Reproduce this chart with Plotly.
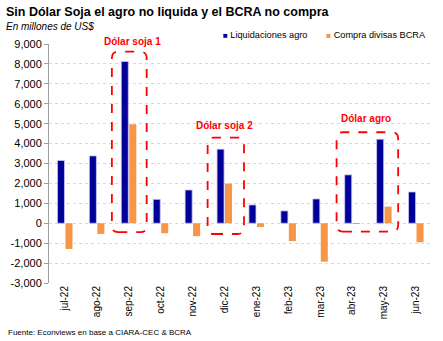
import plotly.graph_objects as go

months = ["jul-22", "ago-22", "sep-22", "oct-22", "nov-22", "dic-22",
          "ene-23", "feb-23", "mar-23", "abr-23", "may-23", "jun-23"]
liquidaciones = [3150, 3380, 8120, 1200, 1670, 3720, 920, 620, 1220, 2430, 4220, 1570]
compras = [-1290, -535, 4970, -500, -650, 1990, -185, -890, -1930, 10, 835, -955]

ytick_vals = [-3000, -2000, -1000, 0, 1000, 2000, 3000, 4000, 5000, 6000, 7000, 8000, 9000]
ytick_text = ["-3,000", "-2,000", "-1,000", "0", "1,000", "2,000", "3,000", "4,000",
              "5,000", "6,000", "7,000", "8,000", "9,000"]

# highlight boxes: (x0, x1, y0, y1) in category-index / value units, and labels
boxes = [(1.47, 2.56, -450, 8615), (4.47, 5.61, -540, 4300), (8.51, 10.44, -420, 4570)]
box_labels = [("Dólar soja 1", 2.12, 9110), ("Dólar soja 2", 4.99, 4930), ("Dólar agro", 9.43, 5280)]

FONT = "Liberation Sans"
RED = "#FF0000"
BLUE = "#000099"
ORANGE = "#F79646"

Y0, Y1 = -3000, 9000
PLOT_H = 239
PLOT_W = 389
ML = 43

fig = go.Figure()
x_idx = list(range(len(months)))
fig.add_trace(go.Bar(x=x_idx, y=liquidaciones, name="Liquidaciones agro", showlegend=False,
                     legendgroup="a",
                     marker=dict(color=BLUE, line=dict(color="#c8c8f0", width=0.8))))
fig.add_trace(go.Bar(x=x_idx, y=compras, name="Compra divisas BCRA", showlegend=False,
                     legendgroup="b",
                     marker=dict(color=ORANGE, line=dict(width=0))))
# legend entries: colored square glyph right next to the label
fig.add_trace(go.Scatter(x=[None], y=[None], mode="markers", legendgroup="a", legend="legend",
                         name=f'<span style="color:{BLUE};font-size:8px">■</span> Liquidaciones agro',
                         marker=dict(symbol="square", size=1, color="rgba(0,0,0,0)")))
fig.add_trace(go.Scatter(x=[None], y=[None], mode="markers", legendgroup="b", legend="legend2",
                         name=f'<span style="color:{ORANGE};font-size:8px">■</span> Compra divisas BCRA',
                         marker=dict(symbol="square", size=1, color="rgba(0,0,0,0)")))

def rounded_path(x0, x1, y0, y1, rx, ry):
    return (f"M {x0+rx},{y0} L {x1-rx},{y0} Q {x1},{y0} {x1},{y0+ry} "
            f"L {x1},{y1-ry} Q {x1},{y1} {x1-rx},{y1} L {x0+rx},{y1} "
            f"Q {x0},{y1} {x0},{y1-ry} L {x0},{y0+ry} Q {x0},{y0} {x0+rx},{y0} Z")

for (x0, x1, y0, y1) in boxes:
    fig.add_shape(type="path", path=rounded_path(x0, x1, y0, y1, 0.2, 330),
                  xref="x", yref="y", line=dict(color=RED, width=1.8, dash="dash"),
                  fillcolor="rgba(0,0,0,0)", layer="above")

for (txt, xi, yv) in box_labels:
    fig.add_annotation(x=xi, y=(yv - Y0) / (Y1 - Y0), xref="x", yref="paper",
                       yanchor="middle",
                       text=f"<b>{txt}</b>", showarrow=False,
                       font=dict(family=FONT, size=10, color=RED))

fig.add_annotation(x=-ML / PLOT_W, y=1 + 44 / PLOT_H, xref="paper", yref="paper",
                   xanchor="left", yanchor="top",
                   text="<b>Sin Dólar Soja el agro no liquida y el BCRA no compra</b>",
                   showarrow=False, font=dict(family=FONT, size=12.5, color="#000000"),
                   xshift=-3, yshift=-3)
fig.add_annotation(x=-ML / PLOT_W, y=1 + 44 / PLOT_H, xref="paper", yref="paper",
                   xanchor="left", yanchor="top",
                   text="<i>En millones de US$</i>", showarrow=False,
                   font=dict(family=FONT, size=10, color="#000000"), xshift=-3, yshift=-19)
fig.add_annotation(x=-ML / PLOT_W, y=-58 / PLOT_H, xref="paper", yref="paper",
                   xanchor="left", yanchor="bottom",
                   text="Fuente: Econviews en base a CIARA-CEC &amp; BCRA", showarrow=False,
                   font=dict(family=FONT, size=8, color="#000000"), xshift=-1, yshift=2)

LEG_Y = 1 + (44 - 34.5) / PLOT_H
fig.update_layout(
    width=443, height=341,
    margin=dict(l=ML, r=11, t=44, b=58),
    paper_bgcolor="white", plot_bgcolor="white",
    barmode="group", bargap=0.5, bargroupgap=0.12,
    showlegend=True,
    legend=dict(orientation="h", x=(219 - 40 - ML) / PLOT_W, xanchor="left",
                y=LEG_Y, yanchor="middle",
                font=dict(family=FONT, size=9.2, color="#000000"),
                itemwidth=30, bgcolor="rgba(0,0,0,0)"),
    legend2=dict(orientation="h", x=(324 - 40 - ML) / PLOT_W, xanchor="left",
                 y=LEG_Y, yanchor="middle",
                 font=dict(family=FONT, size=9.2, color="#000000"),
                 itemwidth=30, bgcolor="rgba(0,0,0,0)"),
    font=dict(family=FONT, color="#000000"),
    xaxis=dict(tickmode="array", tickvals=x_idx, ticktext=months,
               range=[-0.5, len(months) - 0.5], tickangle=-90, showgrid=False, showline=False,
               zeroline=False, ticks="", tickfont=dict(family=FONT, size=10)),
    xaxis2=dict(overlaying="x", anchor="free", position=(0 - Y0) / (Y1 - Y0), side="bottom",
                range=[-0.5, len(months) - 0.5], tickmode="array",
                tickvals=[i + 0.5 for i in x_idx], ticks="outside", ticklen=4,
                tickcolor="#a0a0a0", showticklabels=False, showline=True, linecolor="#a0a0a0",
                linewidth=1, showgrid=False, zeroline=False),
    yaxis=dict(range=[Y0, Y1], tickmode="array", tickvals=ytick_vals, ticktext=ytick_text,
               showgrid=True, gridcolor="#d9d9d9", griddash="dot", gridwidth=1,
               zeroline=False, showline=True, linecolor="#a0a0a0", linewidth=1,
               ticks="outside", ticklen=4, tickcolor="#a0a0a0",
               tickfont=dict(family=FONT, size=11)),
)

fig.write_html("out.html")
